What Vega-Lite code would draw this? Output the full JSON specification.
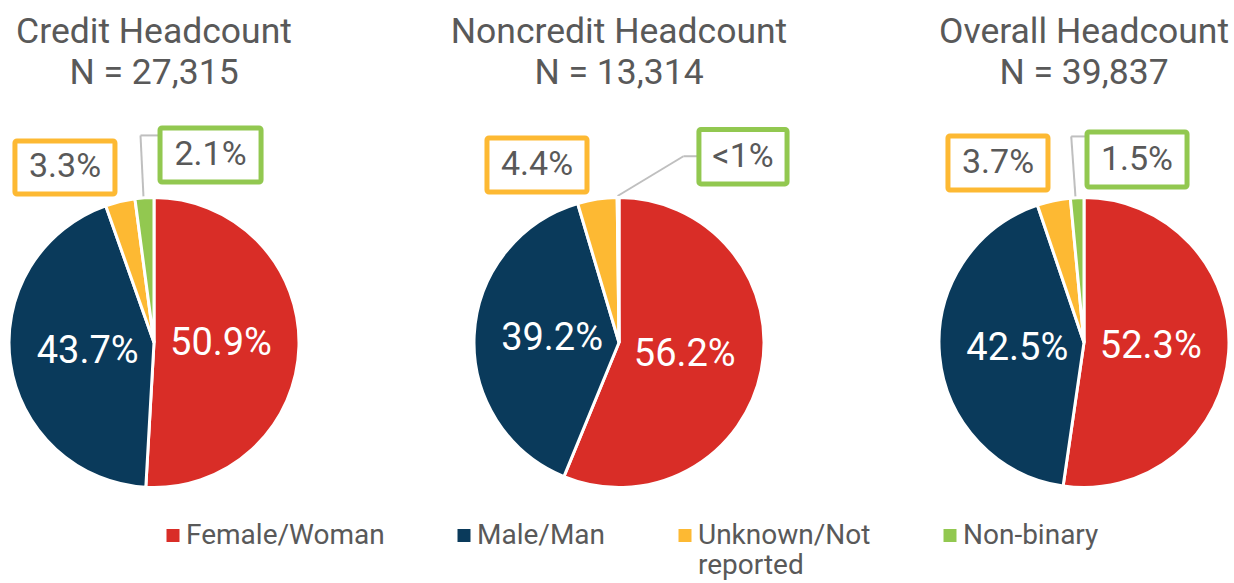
{
  "$schema": "https://vega.github.io/schema/vega-lite/v6.json",
  "padding": {"left": 2.5, "top": 14, "right": 0, "bottom": 0},
  "background": "white",
  "config": {"view": {"stroke": null}, "concat": {"spacing": 178}},
  "bounds": "flush",
  "datasets": {
    "rows": [
      {"panel": "Credit", "gender": "Female/Woman", "pct": 50.9, "label": "50.9%", "ord": 1},
      {"panel": "Credit", "gender": "Male/Man", "pct": 43.7, "label": "43.7%", "ord": 2},
      {"panel": "Credit", "gender": "Unknown/Not reported", "pct": 3.3, "label": "3.3%", "ord": 3},
      {"panel": "Credit", "gender": "Non-binary", "pct": 2.1, "label": "2.1%", "ord": 4},
      {"panel": "Noncredit", "gender": "Female/Woman", "pct": 56.2, "label": "56.2%", "ord": 1},
      {"panel": "Noncredit", "gender": "Male/Man", "pct": 39.2, "label": "39.2%", "ord": 2},
      {"panel": "Noncredit", "gender": "Unknown/Not reported", "pct": 4.4, "label": "4.4%", "ord": 3},
      {"panel": "Noncredit", "gender": "Non-binary", "pct": 0.2, "label": "<1%", "ord": 4},
      {"panel": "Overall", "gender": "Female/Woman", "pct": 52.3, "label": "52.3%", "ord": 1},
      {"panel": "Overall", "gender": "Male/Man", "pct": 42.5, "label": "42.5%", "ord": 2},
      {"panel": "Overall", "gender": "Unknown/Not reported", "pct": 3.7, "label": "3.7%", "ord": 3},
      {"panel": "Overall", "gender": "Non-binary", "pct": 1.5, "label": "1.5%", "ord": 4}
    ]
  },
  "hconcat": [
    {
      "width": 287, "height": 287,
      "data": {"name": "rows"},
      "transform": [{"filter": "datum.panel == 'Credit'"}],
      "title": {"text": ["Credit Headcount", "N = 27,315"], "fontSize": 35.5, "font": "Roboto", "fontWeight": "normal", "color": "#595959", "lineHeight": 41, "anchor": "middle", "frame": "group", "offset": 34},
      "layer": [
        {"transform": [{"filter": "datum.gender == 'Non-binary'"}], "mark": {"type": "rule", "color": "#BFBFBF", "strokeWidth": 2},
         "encoding": {"x": {"datum": -0.073, "type": "quantitative", "scale": {"domain": [-1, 1], "nice": false, "zero": false}, "axis": null},
                      "y": {"datum": 1.010, "type": "quantitative", "scale": {"domain": [-1, 1], "nice": false, "zero": false}, "axis": null},
                      "x2": {"datum": -0.094}, "y2": {"datum": 1.443}}},
        {"transform": [{"filter": "datum.gender == 'Non-binary'"}], "mark": {"type": "rule", "color": "#BFBFBF", "strokeWidth": 2},
         "encoding": {"x": {"datum": -0.094, "type": "quantitative"}, "y": {"datum": 1.443, "type": "quantitative"},
                      "x2": {"datum": 0.042}, "y2": {"datum": 1.443}}},
        {"mark": {"type": "arc", "radius": 145, "stroke": "white", "strokeWidth": 3},
         "encoding": {
           "theta": {"field": "pct", "type": "quantitative", "stack": true},
           "order": {"field": "ord", "type": "quantitative"},
           "color": {"field": "gender", "type": "nominal",
             "scale": {"domain": ["Female/Woman", "Male/Man", "Unknown/Not reported", "Non-binary"], "range": ["#D92D27", "#0A3A5B", "#FDB933", "#92C850"]},
             "legend": {"title": null, "orient": "none", "legendX": 148.5, "legendY": 322.5, "direction": "horizontal", "symbolType": "square", "symbolSize": 169, "symbolStrokeWidth": 0, "labelFont": "Roboto", "labelFontSize": 28, "labelColor": "#595959", "columnPadding": 65, "labelOffset": -1, "labelLimit": 400, "labelBaseline": "middle", "labelExpr": "datum.label == 'Unknown/Not reported' ? ['Unknown/Not', 'reported'] : [datum.label, ' ']"}}
         }},
        {"transform": [{"filter": "datum.gender == 'Unknown/Not reported'"}], "mark": {"type": "rect", "fill": "white", "stroke": "#FDB933", "strokeWidth": 5, "cornerRadius": 2},
         "encoding": {"x": {"datum": -0.969, "type": "quantitative"}, "x2": {"datum": -0.272}, "y": {"datum": 1.404, "type": "quantitative"}, "y2": {"datum": 1.035}}},
        {"transform": [{"filter": "datum.gender == 'Non-binary'"}], "mark": {"type": "rect", "fill": "white", "stroke": "#92C850", "strokeWidth": 5, "cornerRadius": 2},
         "encoding": {"x": {"datum": 0.042, "type": "quantitative"}, "x2": {"datum": 0.746}, "y": {"datum": 1.495, "type": "quantitative"}, "y2": {"datum": 1.118}}},
        {"transform": [{"filter": "datum.pct > 10"}], "mark": {"type": "text", "radius": 67, "fontSize": 38, "font": "Roboto", "fill": "white"},
         "encoding": {"theta": {"field": "pct", "type": "quantitative", "stack": true}, "order": {"field": "ord", "type": "quantitative"}, "detail": {"field": "gender"}, "text": {"field": "label"}}},
        {"transform": [{"filter": "datum.gender == 'Unknown/Not reported'"}], "mark": {"type": "text", "fontSize": 34, "font": "Roboto", "fill": "#595959"},
         "encoding": {"x": {"datum": -0.62, "type": "quantitative"}, "y": {"datum": 1.22, "type": "quantitative"}, "text": {"field": "label"}}},
        {"transform": [{"filter": "datum.gender == 'Non-binary'"}], "mark": {"type": "text", "fontSize": 34, "font": "Roboto", "fill": "#595959"},
         "encoding": {"x": {"datum": 0.394, "type": "quantitative"}, "y": {"datum": 1.307, "type": "quantitative"}, "text": {"field": "label"}}}
      ]
    },
    {
      "width": 287, "height": 287,
      "data": {"name": "rows"},
      "transform": [{"filter": "datum.panel == 'Noncredit'"}],
      "title": {"text": ["Noncredit Headcount", "N = 13,314"], "fontSize": 35.5, "font": "Roboto", "fontWeight": "normal", "color": "#595959", "lineHeight": 41, "anchor": "middle", "frame": "group", "offset": 35.5},
      "layer": [
        {"transform": [{"filter": "datum.gender == 'Non-binary'"}], "mark": {"type": "rule", "color": "#BFBFBF", "strokeWidth": 2},
         "encoding": {"x": {"datum": -0.010, "type": "quantitative", "scale": {"domain": [-1, 1], "nice": false, "zero": false}, "axis": null},
                      "y": {"datum": 1.021, "type": "quantitative", "scale": {"domain": [-1, 1], "nice": false, "zero": false}, "axis": null},
                      "x2": {"datum": 0.449}, "y2": {"datum": 1.298}}},
        {"transform": [{"filter": "datum.gender == 'Non-binary'"}], "mark": {"type": "rule", "color": "#BFBFBF", "strokeWidth": 2},
         "encoding": {"x": {"datum": 0.449, "type": "quantitative"}, "y": {"datum": 1.298, "type": "quantitative"},
                      "x2": {"datum": 0.557}, "y2": {"datum": 1.298}}},
        {"mark": {"type": "arc", "radius": 145, "stroke": "white", "strokeWidth": 3},
         "encoding": {
           "theta": {"field": "pct", "type": "quantitative", "stack": true},
           "order": {"field": "ord", "type": "quantitative"},
           "color": {"field": "gender", "type": "nominal",
             "scale": {"domain": ["Female/Woman", "Male/Man", "Unknown/Not reported", "Non-binary"], "range": ["#D92D27", "#0A3A5B", "#FDB933", "#92C850"]},
             "legend": {"title": null, "orient": "none", "legendX": 148.5, "legendY": 322.5, "direction": "horizontal", "symbolType": "square", "symbolSize": 169, "symbolStrokeWidth": 0, "labelFont": "Roboto", "labelFontSize": 28, "labelColor": "#595959", "columnPadding": 65, "labelOffset": -1, "labelLimit": 400, "labelBaseline": "middle", "labelExpr": "datum.label == 'Unknown/Not reported' ? ['Unknown/Not', 'reported'] : [datum.label, ' ']"}}
         }},
        {"transform": [{"filter": "datum.gender == 'Unknown/Not reported'"}], "mark": {"type": "rect", "fill": "white", "stroke": "#FDB933", "strokeWidth": 5, "cornerRadius": 2},
         "encoding": {"x": {"datum": -0.920, "type": "quantitative"}, "x2": {"datum": -0.223}, "y": {"datum": 1.425, "type": "quantitative"}, "y2": {"datum": 1.049}}},
        {"transform": [{"filter": "datum.gender == 'Non-binary'"}], "mark": {"type": "rect", "fill": "white", "stroke": "#92C850", "strokeWidth": 5, "cornerRadius": 2},
         "encoding": {"x": {"datum": 0.557, "type": "quantitative"}, "x2": {"datum": 1.171}, "y": {"datum": 1.484, "type": "quantitative"}, "y2": {"datum": 1.105}}},
        {"transform": [{"filter": "datum.pct > 10"}], "mark": {"type": "text", "radius": 67, "fontSize": 38, "font": "Roboto", "fill": "white"},
         "encoding": {"theta": {"field": "pct", "type": "quantitative", "stack": true}, "order": {"field": "ord", "type": "quantitative"}, "detail": {"field": "gender"}, "text": {"field": "label"}}},
        {"transform": [{"filter": "datum.gender == 'Unknown/Not reported'"}], "mark": {"type": "text", "fontSize": 34, "font": "Roboto", "fill": "#595959"},
         "encoding": {"x": {"datum": -0.571, "type": "quantitative"}, "y": {"datum": 1.237, "type": "quantitative"}, "text": {"field": "label"}}},
        {"transform": [{"filter": "datum.gender == 'Non-binary'"}], "mark": {"type": "text", "fontSize": 34, "font": "Roboto", "fill": "#595959"},
         "encoding": {"x": {"datum": 0.864, "type": "quantitative"}, "y": {"datum": 1.296, "type": "quantitative"}, "text": {"field": "label"}}}
      ]
    },
    {
      "width": 287, "height": 287,
      "data": {"name": "rows"},
      "transform": [{"filter": "datum.panel == 'Overall'"}],
      "title": {"text": ["Overall Headcount", "N = 39,837"], "fontSize": 35.5, "font": "Roboto", "fontWeight": "normal", "color": "#595959", "lineHeight": 41, "anchor": "middle", "frame": "group", "offset": 38},
      "layer": [
        {"transform": [{"filter": "datum.gender == 'Non-binary'"}], "mark": {"type": "rule", "color": "#BFBFBF", "strokeWidth": 2},
         "encoding": {"x": {"datum": -0.059, "type": "quantitative", "scale": {"domain": [-1, 1], "nice": false, "zero": false}, "axis": null},
                      "y": {"datum": 1.010, "type": "quantitative", "scale": {"domain": [-1, 1], "nice": false, "zero": false}, "axis": null},
                      "x2": {"datum": -0.089}, "y2": {"datum": 1.436}}},
        {"transform": [{"filter": "datum.gender == 'Non-binary'"}], "mark": {"type": "rule", "color": "#BFBFBF", "strokeWidth": 2},
         "encoding": {"x": {"datum": -0.089, "type": "quantitative"}, "y": {"datum": 1.436, "type": "quantitative"},
                      "x2": {"datum": 0.021}, "y2": {"datum": 1.436}}},
        {"mark": {"type": "arc", "radius": 145, "stroke": "white", "strokeWidth": 3},
         "encoding": {
           "theta": {"field": "pct", "type": "quantitative", "stack": true},
           "order": {"field": "ord", "type": "quantitative"},
           "color": {"field": "gender", "type": "nominal",
             "scale": {"domain": ["Female/Woman", "Male/Man", "Unknown/Not reported", "Non-binary"], "range": ["#D92D27", "#0A3A5B", "#FDB933", "#92C850"]},
             "legend": {"title": null, "orient": "none", "legendX": 148.5, "legendY": 322.5, "direction": "horizontal", "symbolType": "square", "symbolSize": 169, "symbolStrokeWidth": 0, "labelFont": "Roboto", "labelFontSize": 28, "labelColor": "#595959", "columnPadding": 65, "labelOffset": -1, "labelLimit": 400, "labelBaseline": "middle", "labelExpr": "datum.label == 'Unknown/Not reported' ? ['Unknown/Not', 'reported'] : [datum.label, ' ']"}}
         }},
        {"transform": [{"filter": "datum.gender == 'Unknown/Not reported'"}], "mark": {"type": "rect", "fill": "white", "stroke": "#FDB933", "strokeWidth": 5, "cornerRadius": 2},
         "encoding": {"x": {"datum": -0.948, "type": "quantitative"}, "x2": {"datum": -0.251}, "y": {"datum": 1.439, "type": "quantitative"}, "y2": {"datum": 1.063}}},
        {"transform": [{"filter": "datum.gender == 'Non-binary'"}], "mark": {"type": "rect", "fill": "white", "stroke": "#92C850", "strokeWidth": 5, "cornerRadius": 2},
         "encoding": {"x": {"datum": 0.021, "type": "quantitative"}, "x2": {"datum": 0.718}, "y": {"datum": 1.467, "type": "quantitative"}, "y2": {"datum": 1.084}}},
        {"transform": [{"filter": "datum.pct > 10"}], "mark": {"type": "text", "radius": 67, "fontSize": 38, "font": "Roboto", "fill": "white"},
         "encoding": {"theta": {"field": "pct", "type": "quantitative", "stack": true}, "order": {"field": "ord", "type": "quantitative"}, "detail": {"field": "gender"}, "text": {"field": "label"}}},
        {"transform": [{"filter": "datum.gender == 'Unknown/Not reported'"}], "mark": {"type": "text", "fontSize": 34, "font": "Roboto", "fill": "#595959"},
         "encoding": {"x": {"datum": -0.599, "type": "quantitative"}, "y": {"datum": 1.251, "type": "quantitative"}, "text": {"field": "label"}}},
        {"transform": [{"filter": "datum.gender == 'Non-binary'"}], "mark": {"type": "text", "fontSize": 34, "font": "Roboto", "fill": "#595959"},
         "encoding": {"x": {"datum": 0.369, "type": "quantitative"}, "y": {"datum": 1.275, "type": "quantitative"}, "text": {"field": "label"}}}
      ]
    }
  ]
}
